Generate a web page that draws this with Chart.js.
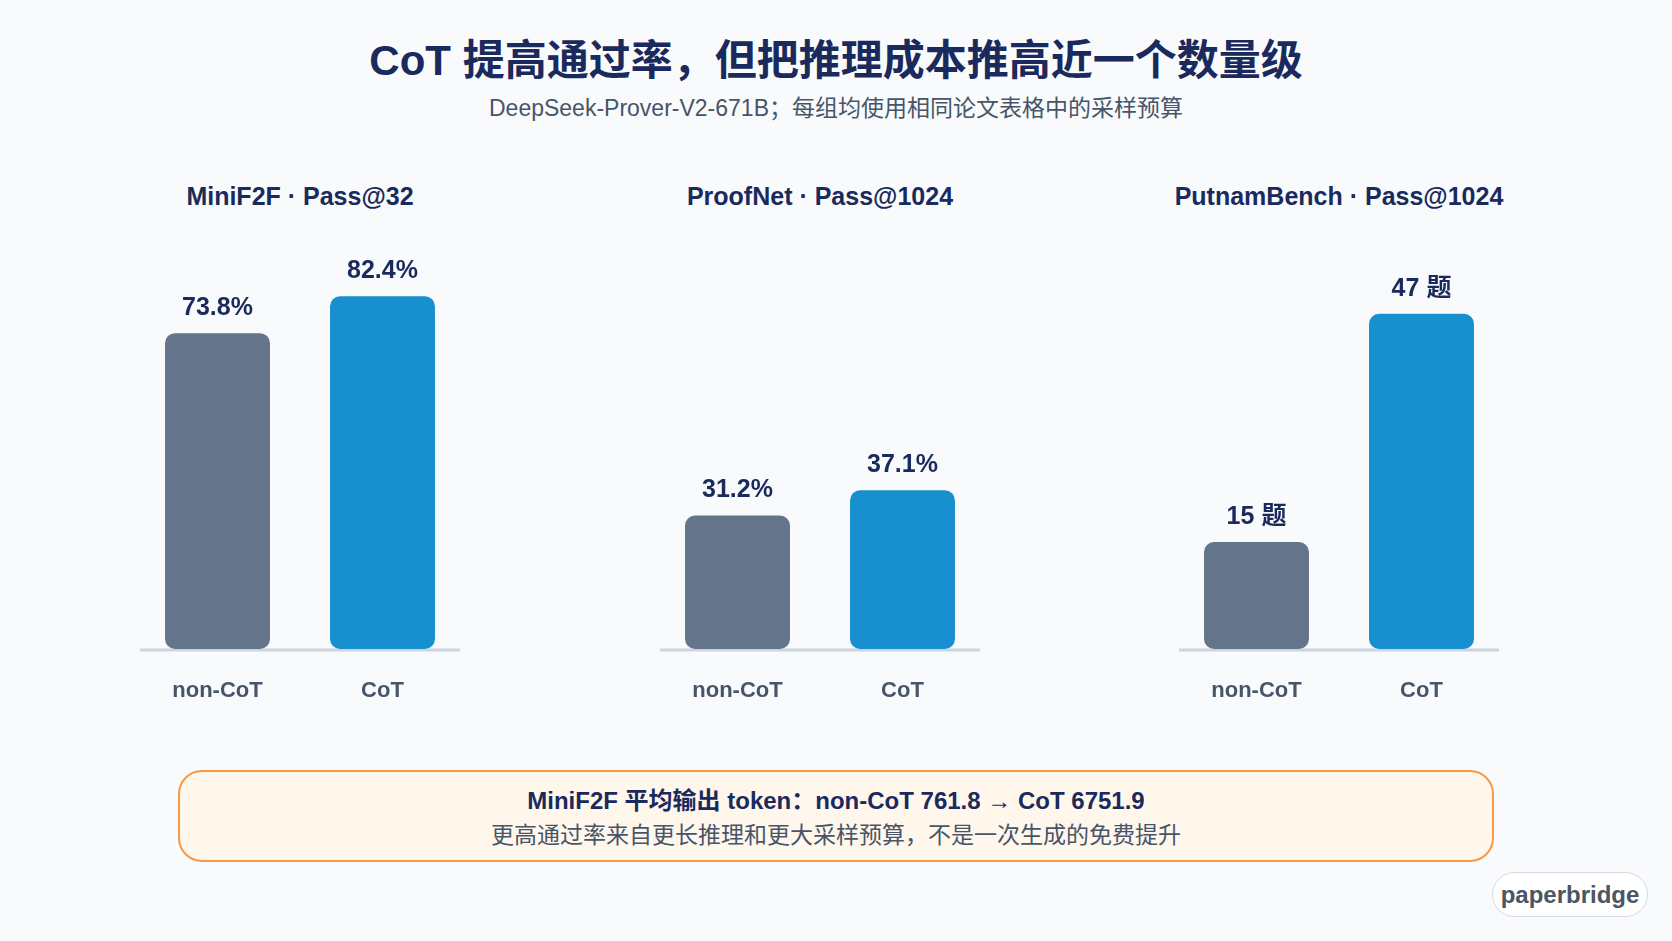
<!DOCTYPE html>
<html>
<head>
<meta charset="utf-8">
<script src="https://cdn.jsdelivr.net/npm/chart.js@4.4.1/dist/chart.umd.min.js"></script>
<style>
  body { margin: 0; background: #f8fafc; font-family: "Liberation Sans", "Noto Sans CJK SC", sans-serif; }
  #page { position: relative; width: 1672px; height: 941px; overflow: hidden; }
  .abs { position: absolute; }
  #title { left: 0; width: 1672px; top: 34px; text-align: center; font-size: 42px; font-weight: bold; color: #1b2a5c; line-height: 54px; }
  #subtitle { left: 0; width: 1672px; top: 94px; text-align: center; font-size: 23px; color: #475569; line-height: 28px; }
  .ptitle { width: 520px; text-align: center; top: 181px; font-size: 25px; font-weight: bold; color: #1b2a5c; line-height: 30px; }
  .panel { width: 330px; height: 520px; top: 201px; }
  #note { left: 178px; top: 770px; width: 1312px; height: 88px; border: 2px solid #f5994a; border-radius: 24px; background: #fff6ec; text-align: center; }
  #note .l1 { margin-top: 13px; font-size: 24px; font-weight: bold; color: #1b2a5c; line-height: 32px; }
  #note .l2 { margin-top: 3px; font-size: 23px; color: #475569; line-height: 30px; }
  #brand { left: 1492px; top: 872px; width: 154px; height: 43px; border: 1px solid #d5d9e0; border-radius: 23px; background: #fff; text-align: center; font-size: 24px; font-weight: bold; color: #4b5563; line-height: 43px; }
</style>
</head>
<body>
<div id="page">
  <div id="title" class="abs">CoT 提高通过率，但把推理成本推高近一个数量级</div>
  <div id="subtitle" class="abs">DeepSeek-Prover-V2-671B；每组均使用相同论文表格中的采样预算</div>

  <div class="abs ptitle" style="left:40px">MiniF2F · Pass@32</div>
  <div class="abs ptitle" style="left:560px">ProofNet · Pass@1024</div>
  <div class="abs ptitle" style="left:1079px">PutnamBench · Pass@1024</div>

  <div class="abs panel" style="left:135px"><canvas id="c1"></canvas></div>
  <div class="abs panel" style="left:655px"><canvas id="c2"></canvas></div>
  <div class="abs panel" style="left:1174px"><canvas id="c3"></canvas></div>

  <div id="note" class="abs">
    <div class="l1">MiniF2F 平均输出 token：non-CoT 761.8 → CoT 6751.9</div>
    <div class="l2">更高通过率来自更长推理和更大采样预算，不是一次生成的免费提升</div>
  </div>
  <div id="brand" class="abs">paperbridge</div>
</div>

<script>
// categories
const modes = ["non-CoT", "CoT"];

// pass rates (%) and solved problem counts
const minif2f = [73.8, 82.4];
const proofnet = [31.2, 37.1];
const putnam = [15, 47];

// bar colours: grey for non-CoT, blue for CoT
const barColors = ["#64748b", "#1890d0"];

const FONT = '"Liberation Sans", "Noto Sans CJK SC", sans-serif';

// baseline under the bars, a little shorter than the plot area
const baseline = {
  id: "baseline",
  beforeDatasetsDraw(chart) {
    const { ctx, chartArea } = chart;
    ctx.save();
    ctx.strokeStyle = "#cbd5e1";
    ctx.lineWidth = 3;
    ctx.beginPath();
    ctx.moveTo(chartArea.left + 5, chartArea.bottom + 1);
    ctx.lineTo(chartArea.right - 5, chartArea.bottom + 1);
    ctx.stroke();
    ctx.restore();
  }
};

// draws the value above each bar
const valueLabels = {
  id: "valueLabels",
  afterDatasetsDraw(chart, args, opts) {
    const ctx = chart.ctx;
    const meta = chart.getDatasetMeta(0);
    ctx.save();
    ctx.font = "bold 25px " + FONT;
    ctx.fillStyle = "#1b2a5c";
    ctx.textAlign = "center";
    ctx.textBaseline = "middle";
    meta.data.forEach((bar, i) => {
      const v = chart.data.datasets[0].data[i];
      ctx.fillText(opts.format(v), bar.x, bar.y - 25);
    });
    ctx.restore();
  }
};

function makeChart(id, values, yMax, format) {
  return new Chart(document.getElementById(id), {
    type: "bar",
    plugins: [baseline, valueLabels],
    data: {
      labels: modes,
      datasets: [{
        data: values,
        backgroundColor: barColors,
        borderRadius: 10,
        borderSkipped: false,
        barPercentage: 0.636,
        categoryPercentage: 1
      }]
    },
    options: {
      responsive: true,
      maintainAspectRatio: false,
      animation: false,
      layout: { padding: { top: 20, left: 0, right: 0, bottom: 0 } },
      plugins: {
        legend: { display: false },
        tooltip: { enabled: false },
        valueLabels: { format: format }
      },
      scales: {
        y: { display: false, min: 0, max: yMax },
        x: {
          grid: { display: false, drawTicks: false },
          border: { display: false },
          ticks: { color: "#475569", padding: 29, font: { family: FONT, size: 22, weight: "bold" } },
          afterFit: (s) => { s.height = 72; }
        }
      }
    }
  });
}

makeChart("c1", minif2f, 100, (v) => v.toFixed(1) + "%");
makeChart("c2", proofnet, 100, (v) => v.toFixed(1) + "%");
makeChart("c3", putnam, 60, (v) => v + " 题");
</script>
</body>
</html>
